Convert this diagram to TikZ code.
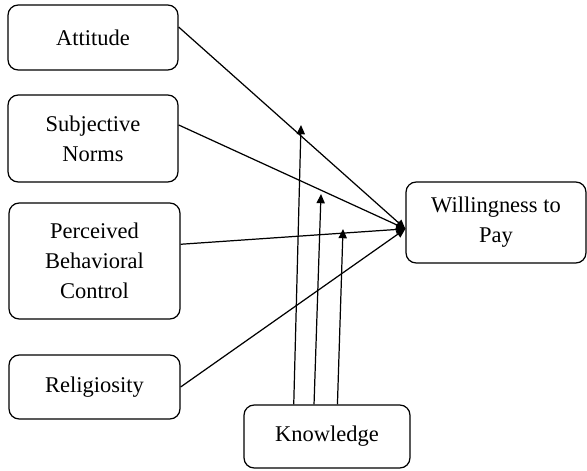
\documentclass[tikz,border=0pt]{standalone}
\usepackage{fontspec}
\setmainfont{Liberation Serif}
\usetikzlibrary{arrows.meta}

\newcommand{\px}{0.0172cm}

\begin{document}
\begin{tikzpicture}[x=\px,y=-\px,line width=0.6pt,
construct/.style 2 args={draw,rounded corners=5pt,align=center,inner sep=0pt,
minimum width=#1*\px,minimum height=#2*\px,
font=\fontsize{11}{14.6}\selectfont},
path/.style={-{Triangle[length=4.5pt,width=4pt]}}]
\useasboundingbox (0,0) rectangle (587,470);

\node[construct={170}{65}] (att) at (93,37.5) {Attitude};
\node[construct={170}{87}] (sn) at (93,138.5) {Subjective\\Norms};
\node[construct={171}{116}] (pbc) at (94.5,261) {Perceived\\Behavioral\\Control};
\node[construct={171}{64}] (rel) at (94.5,387) {Religiosity};
\node[construct={180}{81}] (wtp) at (496,222.5) {Willingness to\\Pay};
\node[construct={166}{63}] (know) at (327,436.5) {Knowledge};

% moderating arrows end on the paths
\coordinate (m1) at (301,125);
\coordinate (m2) at (321,194);
\coordinate (m3) at (343,229);

\draw[path] (att.7) -- (wtp.184);
\draw[path] (sn.9) -- (wtp.184);
\draw[path] (pbc.11) -- (wtp.184);
\draw[path] (rel.east) -- (wtp.184);

\draw[path] (know.136) -- (m1);
\draw[path] (know.112) -- (m2);
\draw[path] (know.72) -- (m3);
\end{tikzpicture}
\end{document}
